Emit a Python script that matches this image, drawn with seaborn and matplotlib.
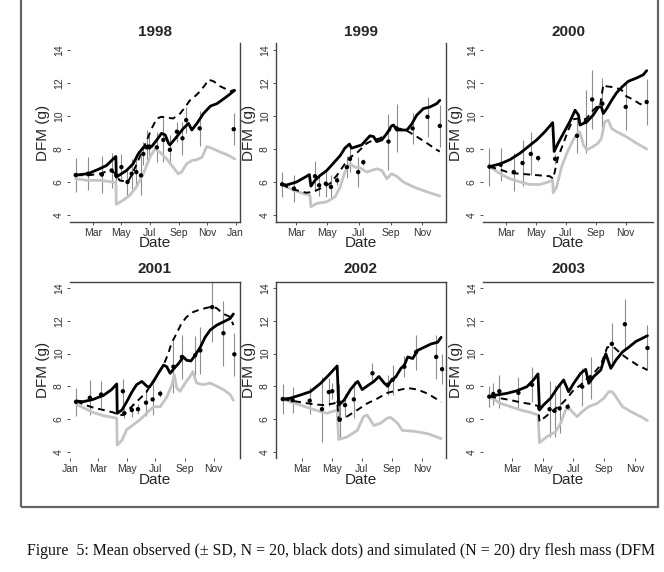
import numpy as np
import pandas as pd
import matplotlib
matplotlib.use("Agg")
import matplotlib.pyplot as plt
import matplotlib.dates as mdates
from matplotlib.patches import Rectangle
import seaborn as sns

sns.set_style("white")
plt.rcParams['font.family'] = ['Liberation Sans', 'DejaVu Sans']

years = [1998, 1999, 2000, 2001, 2002, 2003]

# ---------------- data (day of year, DFM g) ----------------
# 1998
sol98_d = [23, 49, 74, 89, 107, 109, 110, 132, 146, 157, 168, 179, 186, 197, 207, 215, 222, 225, 240, 254, 265, 272, 283, 297, 312, 326, 341, 355, 364]
sol98_v = [6.42, 6.5, 6.8, 7.0, 7.5, 7.55, 6.3, 6.7, 7.1, 7.7, 8.1, 8.2, 8.15, 8.55, 8.95, 8.85, 8.35, 8.25, 8.75, 9.25, 9.55, 9.15, 9.55, 10.15, 10.6, 10.75, 11.05, 11.35, 11.55]
das98_d = [23, 49, 74, 96, 107, 117, 135, 146, 160, 175, 186, 197, 207, 218, 232, 247, 258, 268, 279, 290, 301, 308, 319, 333, 348, 355, 364]
das98_v = [6.42, 6.4, 6.5, 6.7, 6.55, 6.1, 6.0, 6.6, 7.5, 8.5, 9.25, 9.85, 9.95, 9.9, 9.85, 10.15, 10.55, 10.95, 11.2, 11.5, 11.9, 12.2, 12.1, 11.8, 11.6, 11.5, 11.6]
gry98_d = [23, 46, 74, 103, 109, 110, 125, 139, 153, 168, 182, 193, 204, 218, 232, 243, 250, 261, 272, 283, 294, 304, 315, 330, 348, 364]
gry98_v = [6.2, 6.1, 6.1, 6.0, 6.0, 4.65, 4.9, 5.2, 5.7, 6.5, 7.5, 8.0, 7.8, 7.4, 6.9, 6.5, 6.6, 7.1, 7.3, 7.35, 7.5, 8.15, 8.05, 7.85, 7.65, 7.4]
obs98_d = [23, 49, 79, 100, 110, 121, 134, 143, 153, 163, 168, 175, 181, 197, 211, 225, 240, 252, 260, 289, 362]
obs98_m = [6.42, 6.5, 6.45, 6.7, 6.4, 6.9, 6.0, 6.5, 6.6, 6.4, 7.7, 8.1, 8.1, 8.1, 8.55, 7.95, 9.05, 8.65, 9.75, 9.25, 9.2]
obs98_s = [1.05, 1.0, 1.13, 1.05, 1.2, 0.8, 0.8, 0.9, 0.95, 1.2, 0.7, 1.05, 0.8, 0.9, 1.35, 0.9, 0.6, 1.0, 0.8, 1.05, 0.98]

# 1999
sol99_d = [32, 42, 61, 78, 86, 89, 97, 107, 120, 133, 146, 155, 164, 168, 178, 188, 198, 204, 211, 217, 227, 237, 246, 250, 256, 266, 276, 285, 295, 308, 321, 334, 340]
sol99_v = [5.86, 5.82, 6.0, 6.3, 6.45, 5.75, 6.1, 6.4, 6.7, 7.15, 7.6, 8.05, 8.3, 8.05, 8.15, 8.25, 8.6, 8.8, 8.75, 8.45, 8.55, 8.95, 9.4, 9.45, 9.15, 9.15, 9.15, 9.5, 10.05, 10.45, 10.55, 10.75, 10.95]
das99_d = [32, 42, 61, 80, 93, 107, 126, 142, 155, 168, 178, 188, 198, 211, 224, 237, 246, 256, 269, 279, 295, 315, 334, 340]
das99_v = [5.86, 5.7, 5.5, 5.35, 5.4, 5.6, 5.9, 6.5, 7.1, 7.55, 7.75, 8.05, 8.35, 8.55, 8.65, 8.95, 9.25, 9.25, 9.2, 9.05, 8.75, 8.35, 7.95, 7.85]
gry99_d = [32, 55, 74, 87, 89, 100, 120, 136, 146, 155, 165, 175, 185, 198, 207, 217, 227, 237, 246, 256, 269, 289, 315, 340]
gry99_v = [5.86, 5.5, 5.3, 5.2, 4.5, 4.7, 4.8, 5.1, 5.7, 6.6, 7.1, 6.9, 6.85, 6.6, 6.7, 6.8, 6.7, 6.2, 6.5, 6.35, 6.0, 5.7, 5.4, 5.15]
obs99_d = [33, 56, 97, 105, 118, 128, 140, 159, 165, 181, 191, 240, 256, 287, 316, 340]
obs99_m = [5.86, 5.6, 6.35, 5.8, 5.9, 5.7, 6.1, 6.9, 7.4, 6.6, 7.2, 8.45, 9.25, 9.25, 9.95, 9.4]
obs99_s = [0.74, 0.8, 0.9, 0.65, 0.83, 0.75, 0.3, 0.65, 0.8, 0.9, 0.2, 1.7, 1.45, 0.95, 1.2, 1.25]

# 2000
sol00_d = [26, 48, 68, 89, 106, 123, 140, 156, 159, 167, 178, 191, 202, 209, 212, 226, 239, 250, 256, 260, 267, 277, 287, 298, 311, 328, 342, 349]
sol00_v = [6.93, 7.1, 7.35, 7.75, 8.15, 8.55, 9.05, 9.6, 7.85, 8.35, 8.95, 9.65, 10.35, 10.05, 9.45, 9.65, 10.05, 10.55, 10.55, 10.15, 10.45, 10.95, 11.4, 11.75, 12.1, 12.3, 12.5, 12.75]
das00_d = [26, 48, 68, 89, 109, 130, 150, 157, 167, 178, 188, 198, 209, 215, 226, 236, 246, 253, 260, 266, 280, 297, 307, 321, 334, 347]
das00_v = [6.93, 6.75, 6.55, 6.5, 6.45, 6.4, 6.35, 6.2, 7.5, 8.35, 9.15, 9.8, 9.85, 9.75, 9.85, 10.25, 10.55, 10.55, 11.9, 11.8, 11.75, 11.6, 11.2, 11.0, 10.75, 10.6]
gry00_d = [26, 48, 68, 89, 109, 130, 147, 156, 157, 164, 174, 185, 198, 209, 212, 219, 226, 239, 249, 256, 263, 270, 277, 287, 307, 328, 349]
gry00_v = [6.93, 6.5, 6.2, 6.0, 5.85, 5.85, 6.0, 6.1, 5.35, 5.7, 6.9, 7.75, 8.55, 9.05, 9.0, 8.25, 7.95, 8.15, 8.35, 8.65, 9.65, 9.75, 9.25, 9.05, 8.75, 8.35, 8.0]
obs00_d = [26, 49, 76, 94, 111, 126, 161, 206, 224, 237, 258, 306, 349]
obs00_m = [6.93, 7.05, 6.6, 7.15, 7.7, 7.45, 7.4, 8.8, 9.65, 11.0, 10.75, 10.55, 10.85]
obs00_s = [1.16, 1.0, 1.14, 1.4, 1.3, 0.2, 0.3, 1.06, 1.9, 1.8, 1.55, 1.4, 1.4]

# 2001
sol01_d = [14, 29, 50, 72, 89, 100, 101, 111, 121, 132, 142, 153, 164, 169, 178, 188, 199, 206, 213, 220, 231, 241, 248, 257, 266, 277, 287, 298, 312, 326, 340, 347]
sol01_v = [7.1, 7.06, 7.2, 7.45, 7.8, 8.15, 6.35, 6.55, 7.05, 7.65, 8.1, 8.3, 8.0, 7.95, 8.3, 8.8, 9.3, 9.2, 8.8, 9.05, 9.4, 9.8, 9.6, 9.55, 9.9, 10.4, 11.0, 11.45, 11.75, 11.95, 12.15, 12.43]
das01_d = [14, 29, 50, 72, 93, 103, 114, 124, 135, 149, 163, 174, 184, 199, 209, 216, 227, 237, 248, 262, 276, 297, 311, 325, 340, 347]
das01_v = [7.1, 6.9, 6.7, 6.55, 6.4, 6.25, 6.25, 6.55, 6.85, 7.25, 7.65, 8.2, 8.6, 9.3, 10.0, 10.65, 11.25, 11.85, 12.25, 12.55, 12.7, 12.85, 12.8, 12.45, 12.25, 11.75]
gry01_d = [14, 50, 72, 100, 101, 111, 121, 135, 149, 163, 178, 192, 206, 217, 222, 227, 234, 245, 255, 261, 269, 283, 298, 312, 326, 340, 347]
gry01_v = [6.9, 6.4, 6.2, 6.05, 4.4, 4.7, 5.35, 5.65, 5.95, 6.35, 6.75, 6.75, 7.35, 8.1, 8.7, 7.9, 7.7, 8.2, 8.6, 8.9, 8.2, 8.1, 8.2, 8.0, 7.8, 7.5, 7.15]
obs01_d = [14, 43, 67, 113, 116, 132, 145, 162, 176, 192, 220, 238, 266, 277, 302, 326, 349]
obs01_m = [7.05, 7.3, 7.5, 7.7, 6.35, 6.55, 6.6, 7.0, 7.2, 7.55, 9.2, 9.8, 9.9, 10.2, 12.85, 11.25, 9.96]
obs01_s = [0.87, 1.07, 0.82, 0.77, 0.3, 0.4, 0.3, 0.82, 0.97, 0.2, 1.58, 1.33, 1.2, 1.43, 2.16, 2.0, 1.3]

# 2002
sol02_d = [21, 36, 57, 77, 98, 115, 132, 135, 146, 159, 170, 174, 183, 197, 207, 217, 228, 235, 241, 252, 262, 269, 276, 286, 296, 310, 324, 337, 344]
sol02_v = [7.22, 7.27, 7.47, 7.67, 8.18, 8.7, 9.25, 6.85, 7.15, 7.8, 8.2, 8.3, 7.8, 8.1, 8.3, 8.6, 8.2, 8.0, 8.3, 8.6, 9.1, 9.3, 9.8, 9.7, 10.2, 10.4, 10.6, 10.7, 11.0]
das02_d = [21, 43, 63, 84, 104, 125, 132, 135, 152, 173, 193, 214, 234, 255, 276, 296, 317, 344]
das02_v = [7.22, 7.1, 7.0, 6.9, 6.85, 6.95, 7.05, 5.95, 6.15, 6.55, 6.95, 7.25, 7.6, 7.75, 7.9, 7.8, 7.55, 7.05]
gry02_d = [21, 36, 57, 77, 98, 111, 132, 135, 152, 173, 186, 193, 207, 221, 234, 241, 255, 265, 289, 317, 344]
gry02_v = [7.22, 7.05, 6.85, 6.65, 6.45, 6.35, 6.55, 4.75, 4.9, 5.3, 6.15, 6.25, 5.6, 5.75, 6.05, 6.1, 5.75, 5.3, 5.25, 5.1, 4.8]
obs02_d = [21, 41, 76, 101, 115, 122, 135, 137, 148, 166, 204, 235, 245, 269, 293, 334, 346]
obs02_m = [7.22, 7.15, 7.12, 6.6, 7.65, 7.7, 7.05, 5.95, 6.85, 7.2, 8.8, 8.1, 8.4, 9.2, 10.1, 9.8, 9.05]
obs02_s = [0.92, 0.8, 0.82, 2.0, 0.87, 0.5, 1.07, 1.07, 0.7, 1.12, 0.6, 0.6, 0.9, 0.65, 1.07, 1.33, 0.92]

# 2003
sol03_d = [15, 30, 50, 70, 90, 103, 112, 115, 123, 137, 150, 163, 173, 183, 197, 207, 213, 223, 237, 247, 257, 267, 280, 293, 307, 317, 330]
sol03_v = [7.37, 7.47, 7.57, 7.73, 7.98, 8.39, 8.76, 6.55, 6.86, 7.27, 7.88, 8.39, 7.67, 8.18, 8.8, 9.04, 8.18, 8.6, 9.0, 10.0, 9.1, 9.6, 10.1, 10.4, 10.75, 10.9, 11.1]
das03_d = [15, 37, 57, 77, 97, 112, 115, 127, 143, 157, 170, 183, 197, 210, 223, 237, 250, 263, 277, 290, 310, 330]
das03_v = [7.37, 7.27, 7.16, 7.02, 6.92, 6.8, 5.84, 6.14, 6.55, 6.86, 7.27, 7.78, 8.08, 8.49, 8.8, 9.3, 10.4, 10.4, 10.0, 9.7, 9.3, 9.0]
gry03_d = [15, 37, 57, 77, 97, 112, 115, 130, 147, 157, 167, 173, 183, 190, 200, 213, 230, 243, 253, 260, 267, 280, 297, 317, 330]
gry03_v = [7.37, 6.96, 6.76, 6.55, 6.4, 6.25, 4.55, 4.92, 5.22, 5.73, 6.55, 6.7, 6.35, 6.14, 6.45, 6.76, 6.96, 7.27, 7.67, 7.67, 7.37, 6.76, 6.45, 6.14, 5.9]
obs03_d = [15, 23, 35, 73, 100, 135, 145, 155, 171, 200, 217, 259, 285, 330]
obs03_m = [7.37, 7.53, 7.7, 7.6, 8.1, 6.6, 6.5, 6.65, 6.75, 7.98, 8.5, 10.6, 11.8, 10.35]
obs03_s = [0.66, 0.66, 1.0, 1.0, 1.07, 1.7, 1.58, 1.5, 0.2, 1.17, 1.28, 1.28, 1.53, 1.38]

yticks = [4, 6, 8, 10, 12, 14]
xlabel = "Date"
ylabel = "DFM (g)"
caption = "Figure  5: Mean observed (\u00b1 SD, N = 20, black dots) and simulated (N = 20) dry flesh mass (DFM"

series = {
    1998: (sol98_d, sol98_v, das98_d, das98_v, gry98_d, gry98_v, obs98_d, obs98_m, obs98_s),
    1999: (sol99_d, sol99_v, das99_d, das99_v, gry99_d, gry99_v, obs99_d, obs99_m, obs99_s),
    2000: (sol00_d, sol00_v, das00_d, das00_v, gry00_d, gry00_v, obs00_d, obs00_m, obs00_s),
    2001: (sol01_d, sol01_v, das01_d, das01_v, gry01_d, gry01_v, obs01_d, obs01_m, obs01_s),
    2002: (sol02_d, sol02_v, das02_d, das02_v, gry02_d, gry02_v, obs02_d, obs02_m, obs02_s),
    2003: (sol03_d, sol03_v, das03_d, das03_v, gry03_d, gry03_v, obs03_d, obs03_m, obs03_s),
}

# ---------------- layout ----------------
W, H = 664, 572
xlims = {1998: (10.6, 375.5), 1999: (21, 352), 2000: (12.8, 362),
         2001: (1, 361), 2002: (7.2, 354), 2003: (2.5, 341)}
col_x = [70, 276, 483]
row_y = [(43.4, 221.6), (281.8, 458.2)]
spines_vis = {1998: ['bottom', 'right'], 1999: ['left', 'bottom', 'right'], 2000: ['bottom'],
              2001: ['top', 'right'], 2002: ['top', 'left', 'right'], 2003: ['top']}


def to_dates(year, days):
    return pd.Timestamp(f"{year}-01-01") + pd.to_timedelta(np.asarray(days, dtype=float) - 1, unit="D")


fig = plt.figure(figsize=(W / 100, H / 100), dpi=100)

for i, yr in enumerate(years):
    r, c = divmod(i, 3)
    top, bot = row_y[r]
    ax = fig.add_axes([col_x[c] / W, 1 - bot / H, 170 / W, (bot - top) / H])
    sd, sv, dd, dv, gd, gv, od, om, os_ = series[yr]

    gdf = pd.DataFrame({"date": to_dates(yr, gd), "v": gv})
    ddf = pd.DataFrame({"date": to_dates(yr, dd), "v": dv})
    sdf = pd.DataFrame({"date": to_dates(yr, sd), "v": sv})
    odf = pd.DataFrame({"date": to_dates(yr, od), "m": om, "s": os_})

    ax.errorbar(odf["date"], odf["m"], yerr=odf["s"], fmt="none", ecolor="#8c8c8c",
                elinewidth=0.8, capsize=0, zorder=1)
    sns.lineplot(data=gdf, x="date", y="v", ax=ax, color="#c4c4c4", lw=2.0,
                 estimator=None, sort=False, zorder=2)
    sns.lineplot(data=ddf, x="date", y="v", ax=ax, color="black", lw=1.4,
                 estimator=None, sort=False, zorder=3, dashes=False)
    ax.lines[-1].set_dashes((3.5, 2.5))
    sns.lineplot(data=sdf, x="date", y="v", ax=ax, color="black", lw=2.0,
                 estimator=None, sort=False, zorder=4)
    sns.scatterplot(data=odf, x="date", y="m", ax=ax, color="black", s=10,
                    edgecolor="none", zorder=5)

    x0, x1 = xlims[yr]
    ax.set_xlim(to_dates(yr, [x0])[0], to_dates(yr, [x1])[0])
    ax.set_ylim(3.6, 14.4)
    ax.set_yticks(yticks)
    ax.set_yticklabels([str(t) for t in yticks], rotation=90, va="center")
    ax.xaxis.set_major_locator(mdates.MonthLocator(bymonth=[1, 3, 5, 7, 9, 11]))
    ax.xaxis.set_major_formatter(mdates.DateFormatter("%b"))
    ax.tick_params(axis="both", which="major", length=2.5, width=0.7, pad=2,
                   labelsize=7.5, labelcolor="#333333", color="#555555",
                   bottom=True, left=True)
    for side in ["top", "bottom", "left", "right"]:
        ax.spines[side].set_visible(side in spines_vis[yr])
        ax.spines[side].set_color("#444444")
        ax.spines[side].set_linewidth(1.0)
    ax.set_xlabel(xlabel, fontsize=11, labelpad=-1)
    ax.set_ylabel(ylabel, fontsize=11, labelpad=3)
    ax.set_title(str(yr), fontsize=11, fontweight="bold", pad=5 if r == 0 else 6)
    ax.grid(False)

# outer frame
fig.add_artist(Rectangle((21 / W, 1 - 507 / H), (658 - 21) / W, 520 / H,
                         transform=fig.transFigure, fill=False,
                         edgecolor="#666666", linewidth=1.6, clip_on=False))

fig.text(27 / W, 1 - 555 / H, caption, fontsize=11.4, family=["Liberation Serif", "DejaVu Serif"],
         ha="left", va="baseline", color="#111111")

fig.savefig("out.png", dpi=100)
